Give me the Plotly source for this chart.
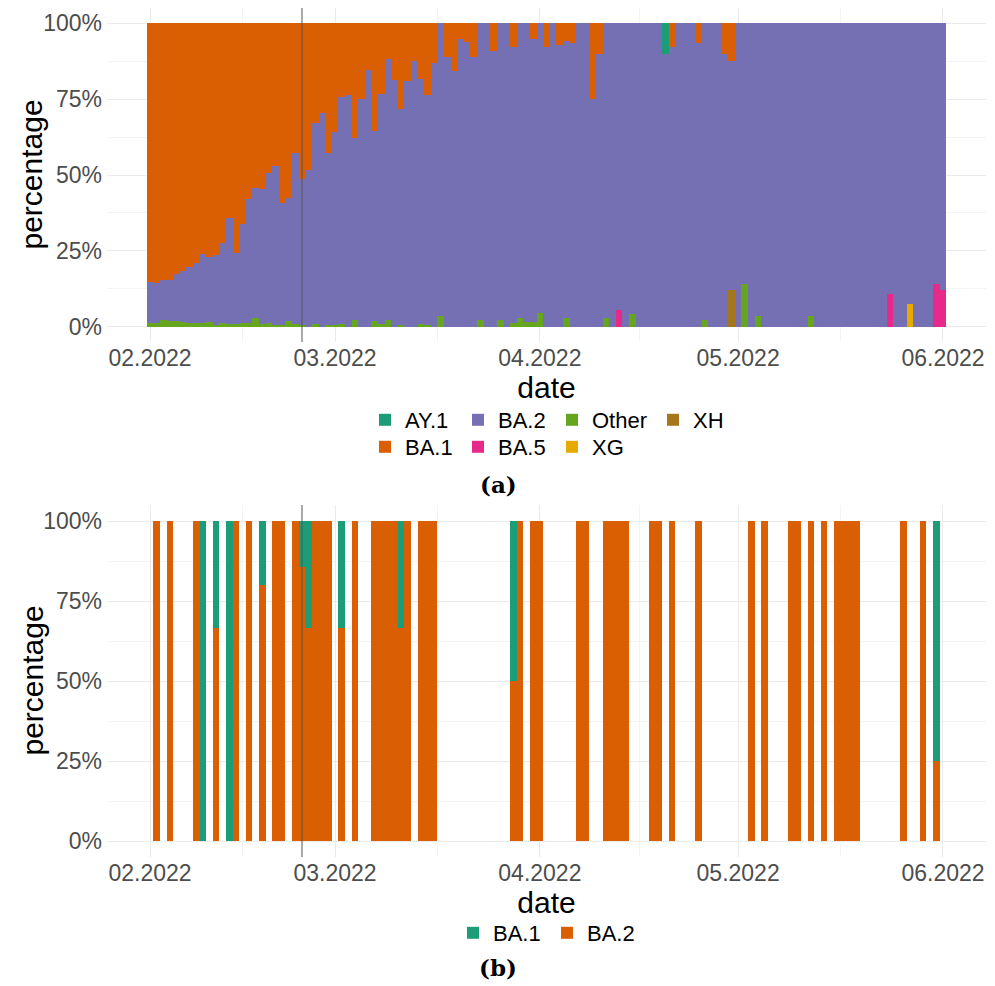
import plotly.graph_objects as go
import pandas as pd

# ---------------- data: panel (a) ----------------
dates_a = pd.date_range("2022-02-01", "2022-06-01", freq="D").strftime("%Y-%m-%d").tolist()

ba1_a = [
    .852, .855, .846, .846, .826, .815, .802, .791, .760, .769,   # Feb 1-10
    .764, .725, .640, .758, .662, .580, .542, .547, .492, .469,   # Feb 11-20
    .593, .577, .429, .514, .484, .330, .295, .429,               # Feb 21-28
    .357, .242, .238, .379, .249, .154, .355, .233, .119, .187,   # Mar 1-10
    .281, .190, .123, .184, .236, .132, 0, .112, .156, .053,      # Mar 11-20
    .062, .112, 0, 0, .090, 0, 0, .080, 0, 0, .052,               # Mar 21-31
    0, .077, 0, .071, .060, .066, 0, 0, .250, .100,               # Apr 1-10
    0, 0, 0, 0, 0, 0, 0, 0, 0, 0,                                 # Apr 11-20
    .077, 0, 0, 0, .066, 0, 0, 0, .100, .124,                     # Apr 21-30
    0, 0, 0, 0, 0, 0, 0, 0, 0, 0,                                 # May 1-10
    0, 0, 0, 0, 0, 0, 0, 0, 0, 0,                                 # May 11-20
    0, 0, 0, 0, 0, 0, 0, 0, 0, 0, 0,                              # May 21-31
    0,                                                            # Jun 1
]
ba2_a = [
    .136, .132, .132, .134, .154, .170, .187, .198, .229, .215,   # Feb 1-10
    .230, .262, .351, .233, .325, .407, .428, .444, .495, .525,   # Feb 11-20
    .401, .404, .563, .480, .516, .661, .705, .565,               # Feb 21-28
    .637, .749, .762, .599, .751, .846, .626, .758, .857, .813,   # Mar 1-10
    .713, .810, .877, .807, .758, .868, .964, .888, .844, .947,   # Mar 11-20
    .938, .888, .978, 1, .910, .976, 1, .906, .970, .984, .932,   # Mar 21-31
    .956, .923, 1, .929, .910, .934, 1, 1, .750, .900,            # Apr 1-10
    .970, 1, .945, 1, .958, 1, 1, 1, 1, .900,                     # Apr 11-20
    .923, 1, 1, 1, .934, .978, 1, 1, .900, .755,                  # Apr 21-30
    1, .860, 1, .964, 1, 1, 1, 1, 1, 1,                           # May 1-10
    1, .964, 1, 1, 1, 1, 1, 1, 1, 1,                              # May 11-20
    1, 1, 1, .892, 1, 1, .925, 1, 1, 1, .860,                     # May 21-31
    .879,                                                         # Jun 1
]
other_dates = [
    "2022-02-01", "2022-02-02", "2022-02-03", "2022-02-04", "2022-02-05", "2022-02-06",
    "2022-02-07", "2022-02-08", "2022-02-09", "2022-02-10", "2022-02-11", "2022-02-12",
    "2022-02-13", "2022-02-14", "2022-02-15", "2022-02-16", "2022-02-17", "2022-02-18",
    "2022-02-19", "2022-02-20", "2022-02-21", "2022-02-22", "2022-02-23", "2022-02-24",
    "2022-02-26", "2022-02-28", "2022-03-01", "2022-03-02", "2022-03-04", "2022-03-07",
    "2022-03-08", "2022-03-09", "2022-03-11", "2022-03-14", "2022-03-15", "2022-03-17",
    "2022-03-23", "2022-03-26", "2022-03-28", "2022-03-29", "2022-03-30", "2022-03-31",
    "2022-04-01", "2022-04-05", "2022-04-11", "2022-04-15", "2022-04-26", "2022-05-02",
    "2022-05-04", "2022-05-12",
]
other_vals = [
    .012, .013, .022, .020, .020, .015,
    .011, .011, .011, .016, .006, .013,
    .009, .009, .013, .013, .030, .009,
    .013, .006, .006, .019, .008, .006,
    .009, .006, .006, .009, .022, .019,
    .009, .024, .006, .009, .006, .036,
    .022, .024, .014, .030, .016, .016,
    .044, .030, .030, .042, .022, .140,
    .036, .036,
]
ay1_dates = ["2022-04-20"]
ay1_vals = [.100]
ba5_dates = ["2022-04-13", "2022-05-24", "2022-05-31", "2022-06-01"]
ba5_vals = [.055, .108, .140, .121]
xg_dates = ["2022-05-27"]
xg_vals = [.075]
xh_dates = ["2022-04-30"]
xh_vals = [.121]

assert len(ba1_a) == len(dates_a) == len(ba2_a)
assert len(other_dates) == len(other_vals)

# ---------------- data: panel (b) ----------------
dates_b = [
    "2022-02-02", "2022-02-04", "2022-02-08", "2022-02-09", "2022-02-11", "2022-02-13",
    "2022-02-14", "2022-02-16", "2022-02-18", "2022-02-20", "2022-02-21", "2022-02-23",
    "2022-02-24", "2022-02-25", "2022-02-26", "2022-02-27", "2022-02-28", "2022-03-02",
    "2022-03-04", "2022-03-07", "2022-03-08", "2022-03-09", "2022-03-10", "2022-03-11",
    "2022-03-12", "2022-03-14", "2022-03-15", "2022-03-16", "2022-03-28", "2022-03-29",
    "2022-03-31", "2022-04-01", "2022-04-07", "2022-04-08", "2022-04-11", "2022-04-12",
    "2022-04-13", "2022-04-14", "2022-04-18", "2022-04-19", "2022-04-21", "2022-04-25",
    "2022-05-03", "2022-05-05", "2022-05-09", "2022-05-10", "2022-05-12", "2022-05-14",
    "2022-05-16", "2022-05-17", "2022-05-18", "2022-05-19", "2022-05-26", "2022-05-29",
    "2022-05-31",
]
ba1_b = [
    0, 0, 0, 1, .333, 1,
    0, 0, .2, 0, 0, 0,
    .143, .333, 0, 0, 0, .333,
    0, 0, 0, 0, 0, .333,
    0, 0, 0, 0, .5, 0,
    0, 0, 0, 0, 0, 0,
    0, 0, 0, 0, 0, 0,
    0, 0, 0, 0, 0, 0,
    0, 0, 0, 0, 0, 0,
    .75,
]
ba2_b = [
    1, 1, 1, 0, .667, 0,
    1, 1, .8, 1, 1, 1,
    .857, .667, 1, 1, 1, .667,
    1, 1, 1, 1, 1, .667,
    1, 1, 1, 1, .5, 1,
    1, 1, 1, 1, 1, 1,
    1, 1, 1, 1, 1, 1,
    1, 1, 1, 1, 1, 1,
    1, 1, 1, 1, 1, 1,
    .25,
]
assert len(dates_b) == len(ba1_b) == len(ba2_b)

month_ticks = ["2022-02-01", "2022-03-01", "2022-04-01", "2022-05-01", "2022-06-01"]
minor_ticks = ["2022-02-15", "2022-03-16 12:00", "2022-04-16", "2022-05-16 12:00"]
pct_ticks = [0, .25, .5, .75, 1]
pct_labels = ["0%", "25%", "50%", "75%", "100%"]
event_date = "2022-02-24"

# Dark2 palette
C = {"AY.1": "#1B9E77", "BA.1": "#D95F02", "BA.2": "#7570B3", "BA.5": "#E7298A",
     "Other": "#66A61E", "XG": "#E6AB02", "XH": "#A6761D"}
CB = {"BA.1": "#1B9E77", "BA.2": "#D95F02"}

DAY = 86400000
# page has an 8px body margin; figure coordinates = page coordinates - 8
OFF = 8
W, H = 987, 978
ML, MT = 107 - OFF, 8 - OFF
MR = W - (986 - OFF)
MB = H - (857 - OFF)
PW, PH = W - ML - MR, H - MT - MB


def px(xp):  # page x -> paper x
    return (xp - OFF - ML) / PW


def py(yp):  # page y -> paper y
    return (H - MB - (yp - OFF)) / PH


FONT = "Liberation Sans, Arial, sans-serif"
fig = go.Figure()

# panel (a) traces, bottom-to-top stacking order; one legend slot each
top_series = [
    ("XH", xh_dates, xh_vals, "legend5"),
    ("XG", xg_dates, xg_vals, "legend8"),
    ("Other", other_dates, other_vals, "legend4"),
    ("BA.5", ba5_dates, ba5_vals, "legend7"),
    ("BA.2", dates_a, ba2_a, "legend3"),
    ("BA.1", dates_a, ba1_a, "legend6"),
    ("AY.1", ay1_dates, ay1_vals, "legend2"),
]
for name, xs, ys, lg in top_series:
    fig.add_trace(go.Bar(x=xs, y=ys, name=name, width=DAY, marker=dict(color=C[name], line=dict(width=0)),
                         xaxis="x", yaxis="y", legend=lg, showlegend=True))

for name, ys, lg in [("BA.2", ba2_b, "legend10"), ("BA.1", ba1_b, "legend9")]:
    fig.add_trace(go.Bar(x=dates_b, y=ys, name=name, width=DAY, marker=dict(color=CB[name], line=dict(width=0)),
                         xaxis="x2", yaxis="y2", legend=lg, showlegend=True))

xrange = ["2022-01-25 11:50", "2022-06-07 12:15"]
GRID = "#EBEBEB"
MINOR = "#F4F4F4"
tickfont = dict(family=FONT, size=23, color="#4D4D4D")
titlefont = dict(family=FONT, size=30, color="black")

xcommon = dict(type="date", range=xrange, tickvals=month_ticks, tickformat="%m.%Y",
               showgrid=True, gridcolor=GRID, gridwidth=1, zeroline=False, showline=False,
               ticks="", tickfont=tickfont, automargin=False,
               minor=dict(tickvals=minor_ticks, showgrid=True, gridcolor=MINOR, gridwidth=1),
               title=dict(text="date", font=titlefont, standoff=3))
ycommon = dict(range=[-0.05, 1.05], tickvals=pct_ticks, ticktext=pct_labels,
               showgrid=True, gridcolor=GRID, gridwidth=1, zeroline=False, showline=False,
               ticks="", tickfont=tickfont, automargin=False, ticklabelstandoff=4,
               minor=dict(tickvals=[.125, .375, .625, .875], showgrid=True, gridcolor=MINOR, gridwidth=1))

fig.update_layout(
    xaxis=dict(xcommon, domain=[0, 1], anchor="y"),
    yaxis=dict(ycommon, domain=[py(342), 1], anchor="x"),
    xaxis2=dict(xcommon, domain=[0, 1], anchor="y2"),
    yaxis2=dict(ycommon, domain=[0, py(505)], anchor="x2"),
    barmode="stack", bargap=0,
    width=W, height=H,
    margin=dict(l=ML, r=MR, t=MT, b=MB, pad=0),
    paper_bgcolor="white", plot_bgcolor="white",
    font=dict(family=FONT),
    showlegend=True,
)

# y-axis titles
for yc in (175, 681):
    fig.add_annotation(text="percentage", x=px(31.5), y=py(yc), xref="paper", yref="paper",
                       showarrow=False, textangle=-90, font=titlefont,
                       xanchor="center", yanchor="middle")

# vertical event line in both panels
for xr, yr in [("x", "y domain"), ("x2", "y2 domain")]:
    fig.add_shape(type="line", xref=xr, yref=yr, x0=event_date, x1=event_date, y0=0, y1=1,
                  line=dict(color="#555555", width=1), layer="above")

# legends: one per entry, laid out like the ggplot legend (page px of text start, centre y)
legfont = dict(family=FONT, size=22, color="black")
leg_pos = {
    "legend2": (405, 420), "legend3": (498, 420), "legend4": (592, 420), "legend5": (693, 420),
    "legend6": (405, 447), "legend7": (498, 447), "legend8": (592, 447),
    "legend9": (493, 933), "legend10": (587, 933),
}
for lg, (tx, ty) in leg_pos.items():
    fig.update_layout({lg: dict(x=px(tx - 40), y=py(ty), xanchor="left", yanchor="middle",
                                orientation="h", font=legfont, bgcolor="rgba(0,0,0,0)",
                                borderwidth=0, itemwidth=30, itemclick=False,
                                itemdoubleclick=False)})

serif = dict(family="DejaVu Serif, Liberation Serif, serif", size=23, color="black")
fig.add_annotation(text="<b>(a)</b>", x=px(498), y=py(484), xref="paper", yref="paper",
                   showarrow=False, font=serif, xanchor="center", yanchor="middle")
fig.add_annotation(text="<b>(b)</b>", x=px(498), y=py(967), xref="paper", yref="paper",
                   showarrow=False, font=serif, xanchor="center", yanchor="middle")

fig.write_html("out.html")
